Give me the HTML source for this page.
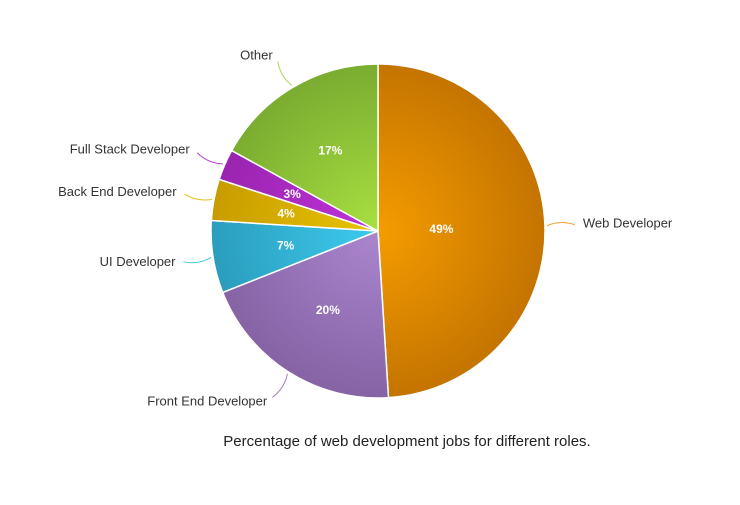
<!DOCTYPE html>
<html><head><meta charset="utf-8"><style>
body{margin:0;background:#fff;}
svg{font-family:"Liberation Sans",sans-serif;}
</style></head><body>
<svg id="chart" width="740" height="500">
<defs id="defs"></defs>
<g id="slices"></g><g id="labels"></g>
<text x="407" y="446" text-anchor="middle" font-size="15" fill="#222">Percentage of web development jobs for different roles.</text>
</svg>
<script>
const categories=["Web Developer","Front End Developer","UI Developer","Back End Developer","Full Stack Developer","Other"];
const values=[49,20,7,4,3,17];
const colorsLight=["#f59c00","#ab86cf","#3ccbee","#e8c400","#bf33d8","#a8e040"];
const colorsDark=["#c47400","#8563a4","#2b9dbd","#c89c00","#9a24b0","#7aac30"];
const lineColors=["#f0a030","#a080c0","#40c8e8","#e8c020","#c040d8","#a8d850"];
const cx=378,cy=231,r=167;
const NS="http://www.w3.org/2000/svg";
const total=values.reduce((a,b)=>a+b,0);
const defs=document.getElementById('defs'),gs=document.getElementById('slices'),gl=document.getElementById('labels');
function pt(a,d){return [cx+Math.sin(a)*d, cy-Math.cos(a)*d];}
let acc=0;
values.forEach((v,i)=>{
  const a0=acc/total*2*Math.PI; acc+=v; const a1=acc/total*2*Math.PI; const am=(a0+a1)/2;
  const g=document.createElementNS(NS,'radialGradient');
  g.setAttribute('id','g'+i);g.setAttribute('cx',cx);g.setAttribute('cy',cy);g.setAttribute('r',r);g.setAttribute('gradientUnits','userSpaceOnUse');
  g.innerHTML=`<stop offset="0" stop-color="${colorsLight[i]}"/><stop offset="1" stop-color="${colorsDark[i]}"/>`;
  defs.appendChild(g);
  const p0=pt(a0,r),p1=pt(a1,r);
  const path=document.createElementNS(NS,'path');
  path.setAttribute('d',`M${cx},${cy}L${p0[0]},${p0[1]}A${r},${r} 0 ${a1-a0>Math.PI?1:0} 1 ${p1[0]},${p1[1]}Z`);
  path.setAttribute('fill',`url(#g${i})`);path.setAttribute('stroke','#fff');path.setAttribute('stroke-width','1.5');
  
  
  gs.appendChild(path);
  const q0=pt(am,r+2),q1=pt(am,r+30);
  const ln=document.createElementNS(NS,'path');
  const qc=pt(am-0.03,r+16);
  ln.setAttribute('d',`M${q0[0]},${q0[1]}Q${qc[0]},${qc[1]} ${q1[0]},${q1[1]}`);
  ln.setAttribute('stroke',lineColors[i]);ln.setAttribute('fill','none');ln.setAttribute('stroke-width','1');
  
  
  gl.appendChild(ln);
  const right=Math.sin(am)>0;
  const t=document.createElementNS(NS,'text');
  const lp=pt(am,r+36);
  t.setAttribute('x',lp[0]+(right?2:-2));t.setAttribute('y',lp[1]+3);
  t.setAttribute('text-anchor',right?'start':'end');t.setAttribute('font-size','13');t.setAttribute('fill','#333');
  t.textContent=categories[i];
  
  
  gl.appendChild(t);
  const vp=pt(am,v/total>0.4?r*0.38:r*0.56);
  const vt=document.createElementNS(NS,'text');
  vt.setAttribute('x',vp[0]);vt.setAttribute('y',vp[1]+4);vt.setAttribute('text-anchor','middle');
  vt.setAttribute('font-size','12');vt.setAttribute('font-weight','bold');vt.setAttribute('fill','#fff');
  vt.textContent=v+'%';
  
  
  gl.appendChild(vt);
});
</script>
</body></html>
